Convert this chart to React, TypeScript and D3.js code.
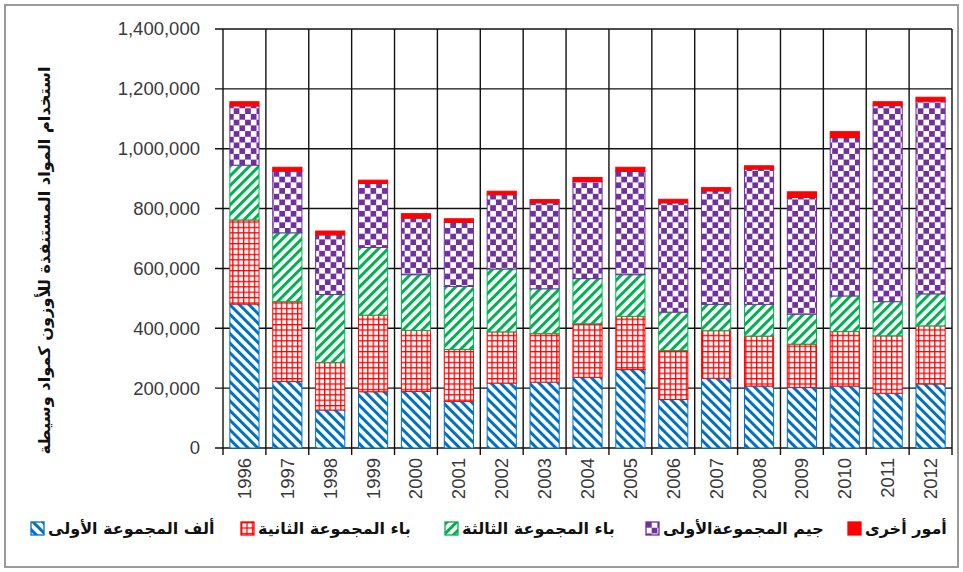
import * as d3 from 'd3'

const YEARS = ['1996', '1997', '1998', '1999', '2000', '2001', '2002', '2003', '2004', '2005', '2006', '2007', '2008', '2009', '2010', '2011', '2012']

// values in thousands
const ALEF_GROUP1 = [481, 222, 127, 188, 189, 156, 217, 220, 236, 262, 162, 233, 207, 202, 207, 183, 214]
const BAA_GROUP2 = [281, 267, 159, 256, 204, 173, 171, 162, 179, 178, 164, 159, 167, 145, 182, 192, 194]
const BAA_GROUP3 = [183, 230, 227, 226, 186, 211, 210, 150, 151, 139, 128, 88, 106, 100, 119, 114, 107]
const JEEM_GROUP1 = [198, 206, 199, 214, 189, 214, 248, 287, 325, 345, 365, 379, 452, 390, 529, 655, 644]
const OTHER = [14, 13, 13, 11, 15, 12, 12, 11, 13, 14, 12, 11, 11, 19, 20, 13, 13]

const SERIES_KEYS = ['a', 'b', 'c', 'd', 'e']
const SERIES_LABELS = ['ألف المجموعة الأولى', 'باء المجموعة الثانية', 'باء المجموعة الثالثة', 'جيم المجموعةالأولى', 'أمور أخرى']
const SERIES_COLORS = ['#0070C0', '#FF0000', '#00B050', '#7030A0', '#FF0000']
const Y_TICKS = [0, 200000, 400000, 600000, 800000, 1000000, 1200000, 1400000]
const Y_TITLE = 'استخدام المواد المستنفذة للأوزون كمواد وسيطة'

const WIDTH = 963
const HEIGHT = 572
const PLOT = { left: 223, right: 952, top: 29, bottom: 448 }
const LEGEND_X = [31, 241, 445, 646, 848]
const ARABIC_FONT = '"DejaVu Sans", sans-serif'
const NUM_FONT = '"Liberation Sans", Arial, sans-serif'

const rows = YEARS.map((year, i) => ({
  year,
  a: ALEF_GROUP1[i] * 1000,
  b: BAA_GROUP2[i] * 1000,
  c: BAA_GROUP3[i] * 1000,
  d: JEEM_GROUP1[i] * 1000,
  e: OTHER[i] * 1000,
}))

function fillFor(index: number) {
  return index === 4 ? SERIES_COLORS[4] : `url(#pat-${SERIES_KEYS[index]})`
}

export default function App() {
  const x = d3.scaleBand<string>().domain(YEARS).range([PLOT.left, PLOT.right]).padding(0)
  const y = d3.scaleLinear().domain([0, 1400000]).range([PLOT.bottom, PLOT.top])
  const stacked = d3.stack<(typeof rows)[number]>().keys(SERIES_KEYS)(rows)
  const step = x.bandwidth()
  const barW = step * 0.68
  const fmt = d3.format(',')

  return (
    <div style={{ position: 'absolute', left: 0, top: 0 }}>
      <svg width={WIDTH} height={HEIGHT} viewBox={`0 0 ${WIDTH} ${HEIGHT}`} style={{ display: 'block', background: '#fff' }}>
        <defs>
          <pattern id="pat-a" patternUnits="userSpaceOnUse" width="6.8" height="6.8" patternTransform="rotate(-45)">
            <rect width="6.8" height="6.8" fill="#fff" />
            <rect width="3" height="6.8" fill={SERIES_COLORS[0]} />
          </pattern>
          <pattern id="pat-b" patternUnits="userSpaceOnUse" width="5.4" height="5.4">
            <rect width="5.4" height="5.4" fill="#fff" />
            <rect width="5.4" height="1.3" fill={SERIES_COLORS[1]} />
            <rect width="1.3" height="5.4" fill={SERIES_COLORS[1]} />
          </pattern>
          <pattern id="pat-c" patternUnits="userSpaceOnUse" width="6.8" height="6.8" patternTransform="rotate(45)">
            <rect width="6.8" height="6.8" fill="#fff" />
            <rect width="3" height="6.8" fill={SERIES_COLORS[2]} />
          </pattern>
          <pattern id="pat-d" patternUnits="userSpaceOnUse" width="11.4" height="11.4">
            <rect width="11.4" height="11.4" fill="#fff" />
            <rect width="5.7" height="5.7" fill={SERIES_COLORS[3]} />
            <rect x="5.7" y="5.7" width="5.7" height="5.7" fill={SERIES_COLORS[3]} />
          </pattern>
        </defs>

        <rect x="5" y="5" width={WIDTH - 10} height={HEIGHT - 10} fill="#fff" stroke="#9a9a9a" strokeWidth="2" />

        {/* grid */}
        {Y_TICKS.map((t) => (
          <line key={t} x1={PLOT.left - 8} x2={PLOT.right} y1={y(t)} y2={y(t)} stroke="#111" strokeWidth="1.4" />
        ))}
        {YEARS.map((yr) => (
          <line key={yr} x1={(x(yr) ?? 0) + step} x2={(x(yr) ?? 0) + step} y1={PLOT.top} y2={PLOT.bottom + 7} stroke="#111" strokeWidth="1.4" />
        ))}
        <line x1={PLOT.left} x2={PLOT.left} y1={PLOT.top} y2={PLOT.bottom + 7} stroke="#111" strokeWidth="1.4" />

        {/* bars */}
        {stacked.map((layer, si) => (
          <g key={layer.key}>
            {layer.map((seg, i) => (
              <rect
                key={YEARS[i]}
                x={(x(YEARS[i]) ?? 0) + (step - barW) / 2}
                y={y(seg[1])}
                width={barW}
                height={y(seg[0]) - y(seg[1])}
                fill={fillFor(si)}
                stroke={SERIES_COLORS[si]}
                strokeWidth="1"
              />
            ))}
          </g>
        ))}

        {/* y tick labels */}
        {Y_TICKS.map((t) => (
          <text key={t} x={200} y={y(t)} dy="0.35em" textAnchor="end" fontFamily={NUM_FONT} fontSize="18.5" fill="#3a3a3a">
            {fmt(t)}
          </text>
        ))}

        {/* x labels */}
        {YEARS.map((yr) => (
          <text
            key={yr}
            transform={`translate(${(x(yr) ?? 0) + step / 2},${PLOT.bottom + 10}) rotate(-90)`}
            dy="0.35em"
            textAnchor="end"
            fontFamily={NUM_FONT}
            fontSize="18.5"
            fill="#3a3a3a"
          >
            {yr}
          </text>
        ))}

        {/* y title */}
        <text
          transform={`translate(44,${(PLOT.top + PLOT.bottom) / 2 + 22}) rotate(-90)`}
          dy="0.35em"
          textAnchor="middle"
          fontFamily={ARABIC_FONT}
          fontWeight="bold"
          fontSize="16.2"
          fill="#111"
        >
          {Y_TITLE}
        </text>

        {/* legend */}
        {SERIES_LABELS.map((label, i) => (
          <g key={label} transform={`translate(${LEGEND_X[i]},522)`}>
            <rect width="13" height="13" fill={fillFor(i)} stroke={SERIES_COLORS[i]} strokeWidth="1.3" />
            <text x="17" y="6.5" dy="0.35em" fontFamily={ARABIC_FONT} fontWeight="bold" fontSize="16" fill="#111">
              {label}
            </text>
          </g>
        ))}
      </svg>
    </div>
  )
}
